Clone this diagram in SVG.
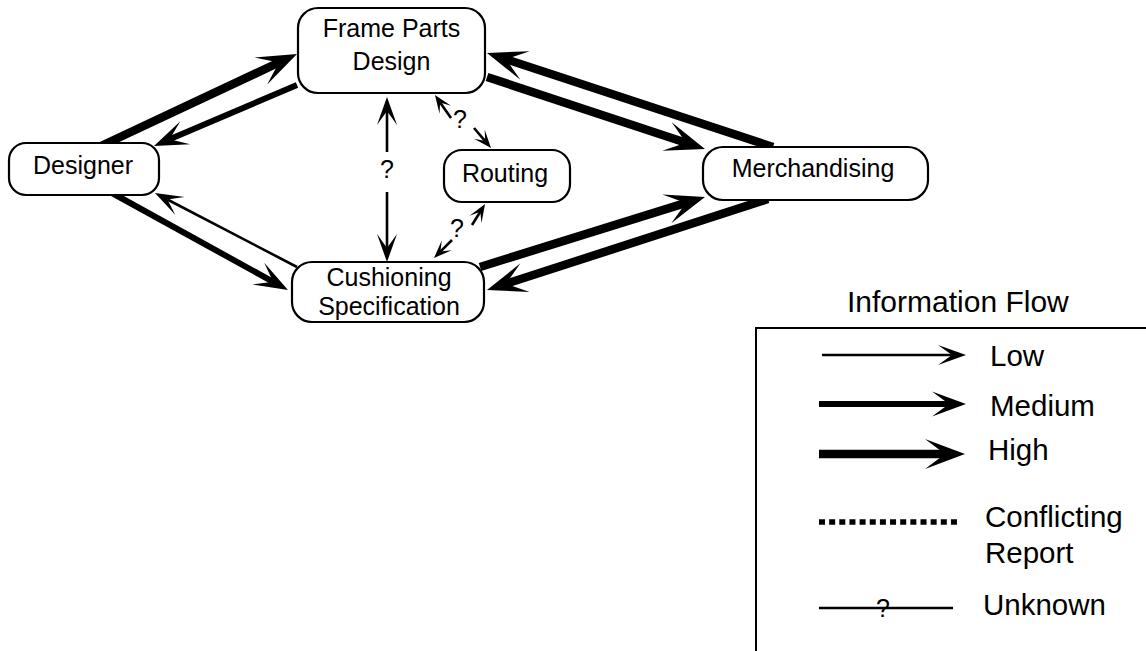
<svg xmlns="http://www.w3.org/2000/svg" width="1146" height="651" viewBox="0 0 1146 651">
<style>
.node rect{fill:#fff;stroke:#000;stroke-width:2.2}
text{font-family:"Liberation Sans",Arial,sans-serif;fill:#000}
.nt{font-size:25px;text-anchor:middle}
.q{font-size:25px;text-anchor:middle}
.lg{font-size:29.5px}
.c{fill:none;stroke:#000;stroke-linecap:butt}
.low{stroke-width:2.6;marker-end:url(#hLow)}
.med{stroke-width:6;marker-end:url(#hMed)}
.high{stroke-width:8.5;marker-end:url(#hHigh)}
.sm{stroke-width:2.6;marker-end:url(#hSmall)}
</style>
<defs>
<marker id="hLow" markerUnits="userSpaceOnUse" markerWidth="30" markerHeight="24" viewBox="0 -12 30 24" refX="14" refY="0" orient="auto" overflow="visible"><path d="M0,-10 L28,0 L0,10 L14,0 Z" fill="#000"/></marker>
<marker id="hMed" markerUnits="userSpaceOnUse" markerWidth="36" markerHeight="28" viewBox="0 -14 36 28" refX="17" refY="0" orient="auto" overflow="visible"><path d="M0,-12.5 L34,0 L0,12.5 L17,0 Z" fill="#000"/></marker>
<marker id="hHigh" markerUnits="userSpaceOnUse" markerWidth="42" markerHeight="34" viewBox="0 -17 42 34" refX="20" refY="0" orient="auto" overflow="visible"><path d="M0,-15 L40,0 L0,15 L20,0 Z" fill="#000"/></marker>
<marker id="hSmall" markerUnits="userSpaceOnUse" markerWidth="20" markerHeight="16" viewBox="0 -8 20 16" refX="9" refY="0" orient="auto" overflow="visible"><path d="M0,-7 L18,0 L0,7 L9,0 Z" fill="#000"/></marker>
</defs>

<g id="connectors">
<path class="c high" d="M101,146 L278.9,62.5"/>
<path class="c med" d="M297,85 L169.6,139.3"/>
<path class="c med" d="M112,193 L273.1,281.8"/>
<path class="c low" d="M297,267 L167.4,199.5"/>
<path class="c low" d="M387,152 L387,111"/>
<path class="c low" d="M387,192 L387,248"/>
<text class="q" x="387" y="178">?</text>
<path class="c sm" d="M451,118 L440.1,102.4"/>
<path class="c sm" d="M474,128 L485.2,141.1"/>
<text class="q" x="460" y="128">?</text>
<path class="c sm" d="M472,225 L480.3,211.7"/>
<path class="c sm" d="M452,240 L440.4,251.6"/>
<text class="q" x="457" y="237">?</text>
<path class="c high" d="M487,77 L686,142.7"/>
<path class="c high" d="M773,147 L506,59.2"/>
<path class="c high" d="M480,267 L685.9,202.9"/>
<path class="c high" d="M768,199 L506,283.8"/>
</g>

<g id="node-frame" class="node">
<rect x="298" y="8" width="187" height="85" rx="20"/>
<text class="nt" x="391.5" y="37">Frame Parts</text>
<text class="nt" x="391.5" y="70">Design</text>
</g>
<g id="node-designer" class="node">
<rect x="9" y="143" width="150" height="52" rx="17"/>
<text class="nt" x="83" y="174">Designer</text>
</g>
<g id="node-routing" class="node">
<rect x="444" y="150" width="126" height="52" rx="18"/>
<text class="nt" x="505" y="182">Routing</text>
</g>
<g id="node-cushioning" class="node">
<rect x="292" y="262" width="192" height="60" rx="20"/>
<text class="nt" x="389" y="286">Cushioning</text>
<text class="nt" x="389" y="315">Specification</text>
</g>
<g id="node-merchandising" class="node">
<rect x="703" y="147" width="225" height="53" rx="20"/>
<text class="nt" x="813" y="177">Merchandising</text>
</g>

<g id="legend">
<text x="847" y="312" style="font-size:30px">Information Flow</text>
<rect x="756" y="328" width="420" height="340" fill="none" stroke="#000" stroke-width="2"/>
<path class="c low" d="M822,355 L952,355"/>
<text class="lg" x="990" y="366">Low</text>
<path class="c med" d="M819,404 L949,404"/>
<text class="lg" x="990" y="416">Medium</text>
<path class="c high" d="M819,454 L945,454"/>
<text class="lg" x="988" y="460">High</text>
<path class="c" d="M819,522 L957,522" stroke-width="5.5" stroke-dasharray="6 4.15"/>
<text class="lg" x="985" y="527">Conflicting</text>
<text class="lg" x="985" y="563">Report</text>
<path class="c" d="M819,608 L953,608" stroke-width="2.7"/>
<text class="q" x="883" y="617">?</text>
<text class="lg" x="983" y="615">Unknown</text>
</g>
</svg>
